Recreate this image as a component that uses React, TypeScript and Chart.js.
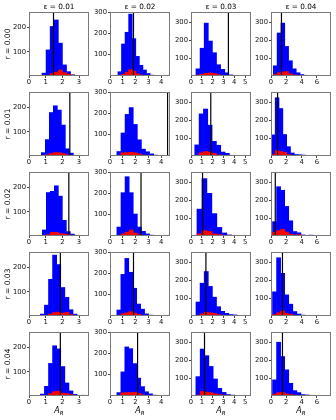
import React, { useEffect, useRef } from 'react';
import { Chart, registerables } from 'chart.js';

Chart.register(...registerables);

// ---- labels / axes ----
const epsLabels = ['ε = 0.01', 'ε = 0.02', 'ε = 0.03', 'ε = 0.04'];
const rLabels = ['r = 0.00', 'r = 0.01', 'r = 0.02', 'r = 0.03', 'r = 0.04'];
const xMaxByCol = [3.6, 4.7, 5.55, 7.85];
const xStepByCol = [1, 1, 1, 2];
const yMaxByCol = [265, 300, 357, 357];
const yTickValues = [100, 200, 300];

// ---- histogram data, panel index = row * 4 + col ----
const binStart = [
  0.78, 0.62, 0.46, 0.3,
  0.74, 0.54, 0.35, 0.05,
  0.8, 0.54, 0.55, 0.2,
  0.68, 0.54, 0.46, 0.2,
  0.68, 0.54, 0.45, 0.2,
];
const binWidth = [
  0.245, 0.28, 0.38, 0.5,
  0.24, 0.32, 0.4, 0.5,
  0.24, 0.32, 0.46, 0.53,
  0.245, 0.31, 0.38, 0.53,
  0.245, 0.31, 0.4, 0.53,
];
const blueCounts = [
  [12, 108, 205, 232, 136, 46, 18, 5, 2],
  [20, 150, 205, 290, 175, 92, 50, 28, 12, 4],
  [40, 155, 295, 195, 130, 63, 37, 18, 6, 3, 1],
  [57, 240, 295, 165, 85, 40, 18, 8, 4, 2],
  [14, 68, 180, 208, 190, 128, 30, 12, 3],
  [21, 108, 195, 227, 148, 76, 32, 20, 10, 4],
  [62, 235, 262, 172, 82, 60, 22, 15, 4, 2, 1],
  [118, 325, 265, 120, 52, 17, 8, 7, 5, 3],
  [25, 180, 185, 208, 165, 65, 18, 8, 3],
  [42, 203, 278, 203, 103, 42, 22, 10, 4, 2, 1],
  [150, 320, 238, 125, 48, 17, 6, 3, 2, 3],
  [80, 275, 255, 165, 85, 25, 18, 6, 3, 5, 2],
  [8, 45, 152, 252, 213, 118, 77, 26, 8, 2],
  [28, 195, 270, 205, 130, 56, 32, 10, 4, 2, 1],
  [78, 183, 248, 165, 105, 52, 26, 15, 8, 6, 1],
  [135, 325, 238, 118, 66, 25, 11, 5, 2, 1],
  [8, 40, 135, 208, 195, 122, 54, 21, 7, 2, 3],
  [16, 113, 230, 222, 152, 84, 44, 20, 10, 4, 2],
  [108, 262, 225, 165, 95, 43, 20, 8, 5, 3, 1],
  [90, 300, 220, 146, 71, 30, 19, 8, 6, 4, 1],
];
const redCounts = [
  [0, 3, 10, 16, 25, 14, 8, 4, 1],
  [2, 8, 18, 30, 22, 10, 5, 2, 0, 0],
  [5, 10, 15, 17, 14, 8, 4, 2, 0, 0, 0],
  [8, 18, 22, 25, 12, 6, 3, 0, 0, 0],
  [1, 5, 10, 14, 14, 10, 5, 2, 0],
  [3, 15, 16, 17, 15, 10, 5, 2, 0, 0],
  [4, 18, 25, 22, 14, 6, 3, 0, 0, 0, 0],
  [8, 30, 25, 20, 8, 4, 2, 0, 0, 0],
  [1, 6, 15, 15, 10, 8, 6, 3, 0],
  [3, 10, 18, 28, 14, 6, 3, 0, 0, 0, 0],
  [12, 30, 25, 12, 8, 4, 2, 0, 1, 2],
  [20, 30, 38, 22, 10, 6, 8, 2, 0, 0, 0],
  [0, 2, 8, 14, 16, 12, 15, 6, 3, 0],
  [2, 10, 15, 20, 14, 8, 4, 2, 0, 0, 0],
  [4, 12, 20, 18, 15, 8, 4, 2, 0, 0, 0],
  [8, 18, 28, 14, 10, 4, 2, 0, 0, 0],
  [0, 2, 10, 18, 20, 12, 10, 6, 3, 0, 3],
  [2, 15, 16, 16, 17, 12, 6, 3, 0, 0, 0],
  [5, 25, 22, 18, 12, 8, 5, 2, 0, 0, 0],
  [10, 18, 20, 12, 8, 5, 2, 0, 0, 0, 0],
];
const markerX = [
  1.47, 1.84, 3.46, 1.37,
  2.45, 4.51, 1.83, 0.86,
  2.39, 2.43, 1.07, 0.56,
  1.88, 1.84, 1.38, 1.5,
  1.88, 2.16, 1.25, 1.5,
];

const FAMILY = "'DejaVu Sans', sans-serif";
const PLOT_LEFTS = [29, 110, 191, 271];
const Y_AXIS_W = 29;
const PLOT_W = 60;
const PLOT_H = 64;
const TOP_PAD = 12;
const X_AXIS_H = 14;
const RIGHT_PAD = 3;

function Panel({ p }: { p: number }) {
  const ref = useRef<HTMLCanvasElement | null>(null);
  const row = Math.floor(p / 4);
  const col = p % 4;
  const last = row === 4;
  const width = Y_AXIS_W + PLOT_W + RIGHT_PAD;
  const height = TOP_PAD + PLOT_H + X_AXIS_H + (last ? 10 : 0);

  useEffect(() => {
    const blue = blueCounts[p]
      .map((v, i) => ({ x: binStart[p] + (i + 0.5) * binWidth[p], y: v }))
      .filter((d) => d.y > 0);
    const red = redCounts[p]
      .map((v, i) => ({ x: binStart[p] + (i + 0.5) * binWidth[p], y: v }))
      .filter((d) => d.y > 0);
    const yMax = yMaxByCol[col];

    const framePlugin = {
      id: 'frame',
      afterDraw(chart: any) {
        const { ctx, chartArea: a } = chart;
        ctx.save();
        ctx.strokeStyle = '#7a7a7a';
        ctx.lineWidth = 1;
        ctx.strokeRect(a.left + 0.5, a.top + 0.5, a.right - a.left - 1, a.bottom - a.top - 1);
        if (last) {
          const cx = (a.left + a.right) / 2;
          const base = a.bottom + 17;
          ctx.fillStyle = '#000';
          ctx.textBaseline = 'alphabetic';
          ctx.font = `italic 8px ${FAMILY}`;
          const wA = ctx.measureText('A').width;
          ctx.font = `italic 5.6px ${FAMILY}`;
          const wR = ctx.measureText('R').width;
          const x0 = cx - (wA + wR) / 2;
          ctx.font = `italic 8px ${FAMILY}`;
          ctx.fillText('A', x0, base);
          ctx.font = `italic 5.6px ${FAMILY}`;
          ctx.fillText('R', x0 + wA, base + 2);
        }
        ctx.restore();
      },
    };

    const chart = new Chart(ref.current as HTMLCanvasElement, {
      type: 'bar',
      data: {
        datasets: [
          {
            type: 'line',
            data: [
              { x: markerX[p], y: 0 },
              { x: markerX[p], y: yMax },
            ],
            borderColor: '#000000',
            borderWidth: 1.2,
            pointRadius: 0,
            order: 0,
          } as any,
          {
            data: red,
            backgroundColor: '#ff0000',
            borderWidth: 0,
            grouped: false,
            barPercentage: 1,
            categoryPercentage: 1,
            order: 1,
          } as any,
          {
            data: blue,
            backgroundColor: '#0000ff',
            borderWidth: 0,
            grouped: false,
            barPercentage: 1,
            categoryPercentage: 1,
            order: 2,
          } as any,
        ],
      },
      options: {
        responsive: false,
        animation: false,
        devicePixelRatio: 1,
        events: [],
        layout: {
          padding: { top: row === 0 ? 0 : TOP_PAD, right: RIGHT_PAD, left: 0, bottom: last ? 10 : 0 },
        },
        plugins: {
          legend: { display: false },
          tooltip: { enabled: false },
          title: {
            display: row === 0,
            fullSize: false,
            text: epsLabels[col],
            color: '#000',
            font: { family: FAMILY, size: 7.3, lineHeight: 1, weight: 'normal' },
            padding: { top: 3.6, bottom: 1.1 },
          },
        },
        scales: {
          x: {
            type: 'linear',
            min: 0,
            max: xMaxByCol[col],
            offset: false,
            border: { display: false },
            grid: { display: true, drawOnChartArea: false, drawTicks: true, tickLength: 2, color: '#444', offset: false },
            ticks: {
              stepSize: xStepByCol[col],
              includeBounds: false,
              autoSkip: false,
              maxRotation: 0,
              padding: 0,
              color: '#111',
              font: { family: FAMILY, size: 6.8 },
            },
            afterFit: (s: any) => {
              s.height = X_AXIS_H;
            },
          },
          y: {
            type: 'linear',
            min: 0,
            max: yMax,
            border: { display: false },
            grid: { display: true, drawOnChartArea: false, drawTicks: true, tickLength: 2, color: '#444' },
            afterBuildTicks: (s: any) => {
              s.ticks = yTickValues.filter((v) => v <= yMax).map((v) => ({ value: v }));
            },
            ticks: {
              padding: 1,
              color: '#111',
              font: { family: FAMILY, size: 6.8 },
              callback: (v: any) => String(v),
            },
            title: {
              display: col === 0,
              text: rLabels[row],
              color: '#000',
              font: { family: FAMILY, size: 7.5 },
              padding: { top: 4, bottom: 0 },
            },
            afterFit: (s: any) => {
              s.width = Y_AXIS_W;
            },
          },
        },
      } as any,
      plugins: [framePlugin],
    });
    return () => chart.destroy();
  }, [p]);

  return (
    <canvas
      ref={ref}
      width={width}
      height={height}
      style={{
        position: 'absolute',
        left: PLOT_LEFTS[col] - Y_AXIS_W,
        top: row * 80,
        width,
        height,
      }}
    />
  );
}

export default function App() {
  const panels = Array.from({ length: 20 }, (_, i) => i);
  return (
    <div
      style={{
        position: 'fixed',
        left: 0,
        top: 0,
        width: 336,
        height: 420,
        background: '#ffffff',
        overflow: 'hidden',
      }}
    >
      {panels.map((p) => (
        <Panel key={p} p={p} />
      ))}
    </div>
  );
}
